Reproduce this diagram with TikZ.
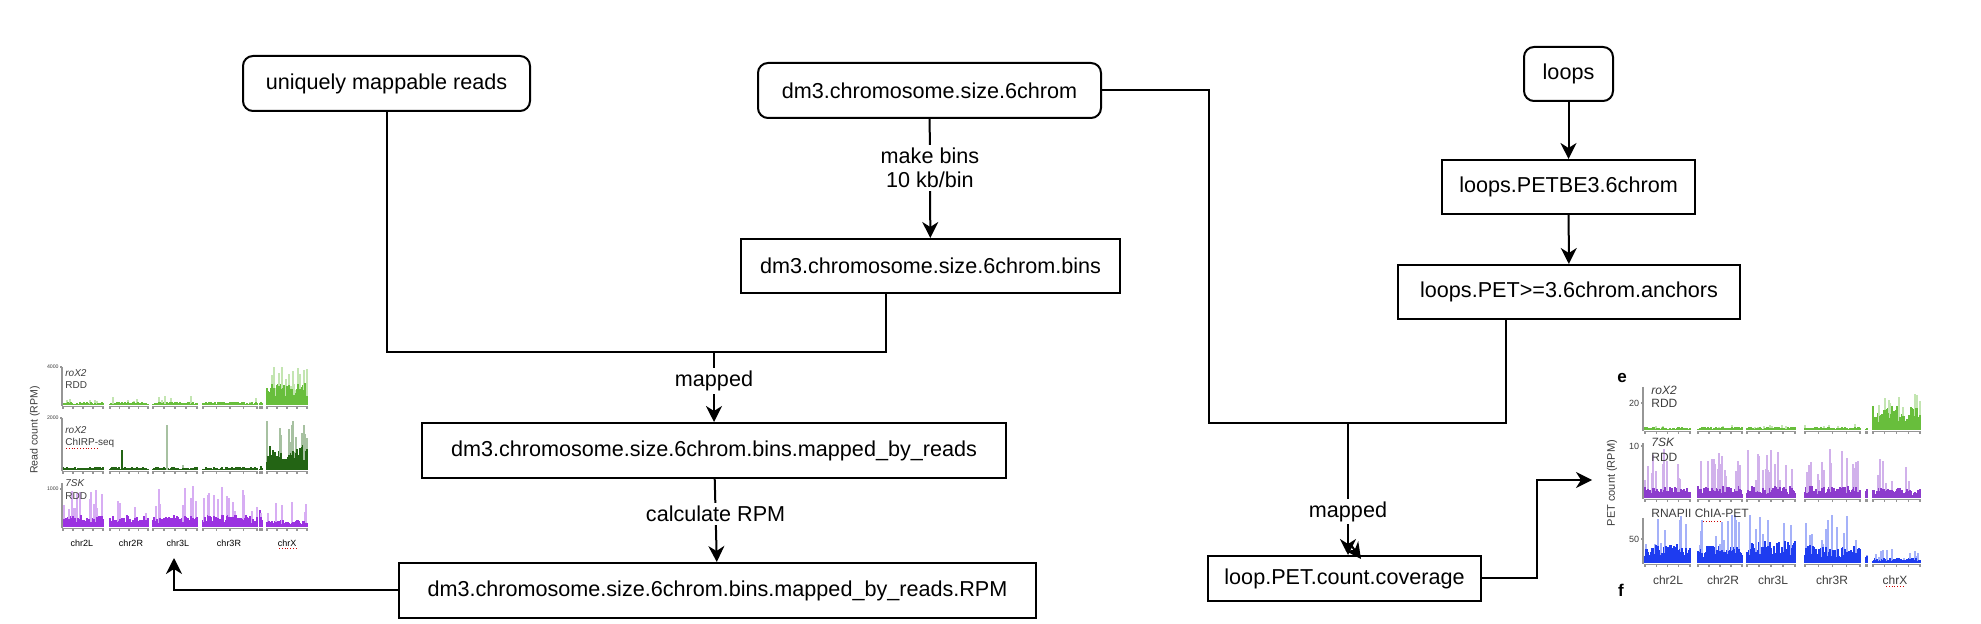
\documentclass[tikz,border=0pt]{standalone}
\usepackage{fontspec}
\setmainfont{Liberation Sans}
\usetikzlibrary{arrows.meta}
\definecolor{lgreen}{RGB}{104,190,60}
\definecolor{dgreen}{RGB}{35,100,20}
\definecolor{lpurple}{RGB}{155,50,225}
\definecolor{rpurple}{RGB}{140,60,205}
\definecolor{pblue}{RGB}{30,60,240}
\definecolor{axisgray}{RGB}{150,150,150}
\definecolor{txtgray}{RGB}{60,60,60}
\tikzset{
  box/.style={draw, line width=1pt, inner sep=0pt, font=\fontsize{10.8pt}{13pt}\selectfont, align=center},
  rbox/.style={box, rounded corners=5pt},
  conn/.style={line width=1pt},
  arr/.style={conn, -{Stealth[length=8pt,width=8pt,inset=2.5pt]}},
  lbl/.style={fill=white, inner sep=1.5pt, font=\fontsize{10.8pt}{13pt}\selectfont, align=center},
  plab/.style={anchor=west, inner sep=0pt, font=\fontsize{5pt}{6pt}\selectfont, text=txtgray},
  rlab/.style={anchor=west, inner sep=0pt, font=\fontsize{6pt}{7pt}\selectfont, text=txtgray},
  ltick/.style={anchor=east, inner sep=0.5pt, font=\fontsize{2.6pt}{3pt}\selectfont, text=txtgray},
  rtick/.style={anchor=east, inner sep=0.8pt, font=\fontsize{4.5pt}{5pt}\selectfont, text=txtgray},
  lchr/.style={inner sep=0pt, font=\fontsize{4.5pt}{5pt}\selectfont},
  rchr/.style={inner sep=0pt, font=\fontsize{6pt}{7pt}\selectfont, text=txtgray},
  axl/.style={axisgray, line width=0.6pt},
  spell/.style={red!80!black, line width=0.4pt, densely dotted}
}
\newcommand{\segm}[7]{%
  \foreach \xx in {#1,...,#2}{%
    \pgfmathsetmacro{\hA}{#4*(0.3+0.7*rnd)}%
    \pgfmathsetmacro{\hB}{(rnd<#6)*#5*(0.35+0.65*rnd)}%
    \draw[#7!40,line width=0.55pt] (\xx,#3) -- (\xx,#3-\hB);%
    \draw[#7,line width=0.55pt] (\xx,#3) -- (\xx,#3-\hA);%
  }%
  \draw[axl] (#1-1,#3+1.5) -- (#2+1,#3+1.5);%
  \foreach \ff in {0,0.25,0.5,0.75,1}{\draw[axl] ({#1+\ff*(#2-#1)},#3+1.5) -- ++(0,2.5);}%
}
\begin{document}
\begin{tikzpicture}[x=0.5pt,y=-0.5pt]
\pgfmathsetseed{4242}
\useasboundingbox (0,0) rectangle (1981,624);

% ---------------- flow nodes ----------------
\node[rbox, minimum width=143.5pt, minimum height=27.5pt] (uniq) at (386.5,83.5) {uniquely mappable reads};
\node[rbox, minimum width=171.5pt, minimum height=27.5pt] (dm3) at (929.5,90.5) {dm3.chromosome.size.6chrom};
\node[box, minimum width=189.5pt, minimum height=27pt] (bins) at (930.5,266) {dm3.chromosome.size.6chrom.bins};
\node[box, minimum width=292pt, minimum height=27.5pt] (mbr) at (714,450.5) {dm3.chromosome.size.6chrom.bins.mapped\_by\_reads};
\node[box, minimum width=318.5pt, minimum height=27.5pt] (rpm) at (717.5,590.5) {dm3.chromosome.size.6chrom.bins.mapped\_by\_reads.RPM};
\node[rbox, minimum width=44.5pt, minimum height=27pt] (loops) at (1568.5,74) {loops};
\node[box, minimum width=126.5pt, minimum height=27pt] (petbe) at (1568.5,187) {loops.PETBE3.6chrom};
\node[box, minimum width=171pt, minimum height=27pt] (anch) at (1569,292) {loops.PET>=3.6chrom.anchors};
\node[box, minimum width=136.5pt, minimum height=22.5pt] (cov) at (1344.5,578.5) {loop.PET.count.coverage};

\coordinate (j1) at (714,352);
\coordinate (cL) at (1209,423);
\coordinate (cR) at (1506,423);
\coordinate (j2) at (1348,423);
\coordinate (lefttip) at (174,558);
\coordinate (righttip) at (1592,480);
\coordinate (rturn) at (1537,480);
\coordinate (dbl0) at (1351,545);
\coordinate (dbl1) at (1361,559);

% ---------------- connectors ----------------
\draw[conn] (uniq.south) |- (j1) -| ([xshift=-22.25pt]bins.south);
\draw[arr] (j1) -- node[lbl,pos=0.42]{mapped} (mbr);
\draw[arr] (dm3) -- node[lbl,pos=0.41]{make bins\\[-1pt]10 kb/bin} (bins);
\draw[arr] (mbr) -- node[lbl,pos=0.42]{calculate RPM} (rpm);
\draw[arr] (rpm.west) -| (lefttip);
\draw[conn] (dm3.east) -| (cL) -- (cR) -- (cR |- anch.south);
\draw[arr] (j2) -- node[lbl,pos=0.67,inner sep=1pt]{mapped} (j2 |- cov.north);
\draw[arr] (dbl0) -- (dbl1);
\draw[arr] (loops) -- (petbe);
\draw[arr] (petbe) -- (anch);
\draw[arr] (cov.east) -| (rturn) -- (righttip);

% ---------------- left plot ----------------
% panel 1
\segm{63}{103}{405}{3}{8}{0.06}{lgreen}
\segm{110}{148}{405}{3}{9}{0.06}{lgreen}
\segm{153}{197}{405}{3}{10}{0.06}{lgreen}
\segm{203}{257}{405}{3}{8}{0.06}{lgreen}
\segm{260}{262}{405}{4}{8}{0.3}{lgreen}
\segm{267}{307}{405}{22}{38}{0.4}{lgreen}
\draw[axl] (62,367) -- (62,406.5);
\draw[axl] (60,367) -- (62,367);
\node[ltick] at (60,367) {4000};
\node[plab] at (65,373) {\itshape roX2};
\node[plab] at (65,385) {RDD};
% panel 2
\segm{63}{103}{470}{3}{6}{0.03}{dgreen}
\segm{110}{148}{470}{3}{6}{0.03}{dgreen}
\segm{153}{197}{470}{3}{6}{0.03}{dgreen}
\segm{203}{257}{470}{3}{6}{0.03}{dgreen}
\segm{260}{262}{470}{4}{10}{0.3}{dgreen}
\segm{267}{307}{470}{25}{50}{0.4}{dgreen}
\draw[dgreen,line width=0.8pt] (122,470) -- (122,450);
\draw[dgreen!40,line width=1pt] (167,470) -- (167,425);
\draw[axl] (62,418) -- (62,471.5);
\draw[axl] (60,418) -- (62,418);
\node[ltick] at (60,418) {2000};
\node[plab] at (65,430) {\itshape roX2};
\node[plab] (chirp) at (65,443) {ChIRP-seq};
\draw[spell] (66,448) -- (97,448);
% panel 3
\segm{63}{103}{527}{12}{40}{0.2}{lpurple}
\segm{110}{148}{527}{12}{40}{0.2}{lpurple}
\segm{153}{197}{527}{12}{44}{0.2}{lpurple}
\segm{203}{257}{527}{12}{42}{0.2}{lpurple}
\segm{260}{262}{527}{18}{20}{0.3}{lpurple}
\segm{267}{307}{527}{7}{28}{0.12}{lpurple}
\draw[axl] (62,483) -- (62,528.5);
\draw[axl] (60,489) -- (62,489);
\node[ltick] at (60,489) {1000};
\node[plab] at (65,483) {\itshape 7SK};
\node[plab] at (65,496) {RDD};
% labels
\node[inner sep=0pt, rotate=90, font=\fontsize{5.3pt}{6pt}\selectfont, text=txtgray] at (35,430) {Read count (RPM)};
\node[lchr] at (82,543) {chr2L};
\node[lchr] at (131,543) {chr2R};
\node[lchr] at (178,543) {chr3L};
\node[lchr] at (229,543) {chr3R};
\node[lchr] at (287,543) {chrX};
\draw[spell] (279,548) -- (296,548);

% ---------------- right plot ----------------
\node[inner sep=0pt, font=\bfseries\fontsize{8.5pt}{9pt}\selectfont] at (1622,378) {e};
\node[inner sep=0pt, font=\bfseries\fontsize{8.5pt}{9pt}\selectfont] at (1621,590) {f};
% panel 1
\segm{1645}{1690}{430}{3}{5}{0.08}{lgreen}
\segm{1698}{1742}{430}{3}{5}{0.08}{lgreen}
\segm{1747}{1795}{430}{3}{5}{0.08}{lgreen}
\segm{1805}{1860}{430}{3}{6}{0.08}{lgreen}
\segm{1866}{1867}{430}{2}{3}{0.1}{lgreen}
\segm{1873}{1920}{430}{24}{40}{0.35}{lgreen}
\draw[axl] (1643,387) -- (1643,431.5);
\draw[axl] (1641,403) -- (1643,403);
\node[rtick] at (1641,403) {20};
\node[rlab] at (1651,390) {\itshape roX2};
\node[rlab] at (1651,403) {RDD};
% panel 2
\segm{1645}{1690}{498}{12}{50}{0.25}{rpurple}
\segm{1698}{1742}{498}{12}{50}{0.25}{rpurple}
\segm{1747}{1795}{498}{12}{50}{0.25}{rpurple}
\segm{1805}{1860}{498}{12}{50}{0.25}{rpurple}
\segm{1866}{1867}{498}{10}{12}{0.2}{rpurple}
\segm{1873}{1920}{498}{10}{40}{0.15}{rpurple}
\draw[axl] (1643,443) -- (1643,499.5);
\draw[axl] (1641,446) -- (1643,446);
\node[rtick] at (1641,446) {10};
\node[rlab] at (1651,442) {\itshape 7SK};
\node[rlab] at (1651,457) {RDD};
% panel 3
\segm{1645}{1690}{563}{20}{48}{0.3}{pblue}
\segm{1698}{1742}{563}{18}{48}{0.3}{pblue}
\segm{1747}{1795}{563}{22}{48}{0.3}{pblue}
\segm{1805}{1860}{563}{18}{48}{0.3}{pblue}
\segm{1866}{1867}{563}{8}{10}{0.2}{pblue}
\segm{1873}{1920}{563}{5}{14}{0.15}{pblue}
\draw[axl] (1643,518) -- (1643,564.5);
\draw[axl] (1641,539) -- (1643,539);
\node[rtick] at (1641,539) {50};
\node[rlab] at (1651,513) {RNAPII ChIA-PET};
\draw[spell] (1703,521) -- (1722,521);
% labels
\node[inner sep=0pt, rotate=90, font=\fontsize{5.5pt}{6pt}\selectfont, text=txtgray] at (1612,483) {PET count (RPM)};
\node[rchr] at (1668,580) {chr2L};
\node[rchr] at (1723,580) {chr2R};
\node[rchr] at (1773,580) {chr3L};
\node[rchr] at (1832,580) {chr3R};
\node[rchr] at (1895,580) {chrX};
\draw[spell] (1886,586) -- (1905,586);
\end{tikzpicture}
\end{document}
